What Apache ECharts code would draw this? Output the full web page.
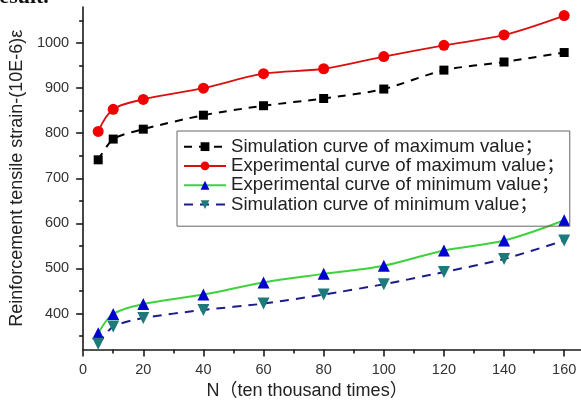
<!DOCTYPE html>
<html><head><meta charset="utf-8">
<script src="https://cdn.jsdelivr.net/npm/echarts@6/dist/echarts.min.js"></script>
<style>html,body{margin:0;padding:0;background:#fff;overflow:hidden}#c{width:581px;height:405px}</style>
</head><body><div id="c"></div>
<script>
// ---- data ----
const N = [5, 10, 20, 40, 60, 80, 100, 120, 140, 160];
const simMax = [741, 787, 809, 840, 861, 877, 898, 940, 958, 979];
const expMax = [804, 853, 875, 900, 932, 943, 970, 995, 1018, 1061];
const expMin = [356, 399, 421, 442, 469, 488, 506, 540, 562, 607];
const simMin = [333, 371, 390, 408, 422, 442, 465, 492, 521, 562];
const seriesNames = [
  'Simulation curve of maximum value；',
  'Experimental curve of maximum value；',
  'Experimental curve of minimum value；',
  'Simulation curve of minimum value；'
];
const xMajor = [0, 20, 40, 60, 80, 100, 120, 140, 160];
const xMinor = [10, 30, 50, 70, 90, 110, 130, 150];
const yMajor = [400, 500, 600, 700, 800, 900, 1000];
const yMinor = [350, 450, 550, 650, 750, 850, 950, 1050];
const xName = 'N（ten thousand times）';
const yName = 'Reinforcement tensile strain-(10E-6)ε';

const FONT = '"Liberation Sans", Arial, "Noto Sans CJK SC", sans-serif';
const pairs = arr => N.map((x, i) => [x, arr[i]]);
const plain = v => String(v);

const axisLineStyle = { color: '#1a1a1a', width: 1.6 };
const chart = echarts.init(document.getElementById('c'), null, { renderer: 'canvas' });
chart.setOption({
  animation: false,
  backgroundColor: '#fff',
  textStyle: { fontFamily: FONT },
  grid: { left: 78, right: 0, top: 7, bottom: 44, containLabel: false },
  xAxis: [{
    type: 'value', min: 0, max: 165.6, position: 'bottom',
    axisLine: { show: true, lineStyle: axisLineStyle },
    axisTick: { show: true, inside: false, length: 7, customValues: xMajor, lineStyle: axisLineStyle },
    axisLabel: { customValues: xMajor, formatter: plain, margin: 13, fontSize: 14.5, color: '#333', fontFamily: FONT },
    splitLine: { show: false },
    name: xName, nameLocation: 'middle', nameGap: 23,
    nameTextStyle: { fontSize: 18, color: '#222', fontFamily: FONT, padding: [0, 50, 0, 0] }
  }, {
    type: 'value', min: 0, max: 165.6, position: 'bottom', offset: 0,
    axisLine: { show: false },
    axisTick: { show: true, inside: false, length: 4, customValues: xMinor, lineStyle: axisLineStyle },
    axisLabel: { show: false },
    splitLine: { show: false }
  }],
  yAxis: [{
    type: 'value', min: 320, max: 1080, position: 'left',
    axisLine: { show: true, lineStyle: axisLineStyle },
    axisTick: { show: true, inside: false, length: 7, customValues: yMajor, lineStyle: axisLineStyle },
    axisLabel: { customValues: yMajor, formatter: plain, margin: 14, fontSize: 14.5, color: '#333', fontFamily: FONT },
    splitLine: { show: false },
    name: yName, nameLocation: 'middle', nameGap: 45,
    nameTextStyle: { fontSize: 18, color: '#222', fontFamily: FONT }
  }, {
    type: 'value', min: 320, max: 1080, position: 'left', offset: 0,
    axisLine: { show: false },
    axisTick: { show: true, inside: false, length: 4, customValues: yMinor, lineStyle: axisLineStyle },
    axisLabel: { show: false },
    splitLine: { show: false }
  }],
  legend: {
    left: 177, top: 131, orient: 'vertical',
    data: seriesNames,
    itemWidth: 42, itemHeight: 11, itemGap: 0,
    padding: [6, 5, 12, 6],
    borderColor: '#666', borderWidth: 1,
    textStyle: { fontSize: 18.6, lineHeight: 19.3, color: '#222', fontFamily: FONT }
  },
  graphic: [{
    type: 'text', left: -10, top: -14,
    style: { text: 'result.', font: 'bold 22px "Liberation Serif", serif', fill: '#111' }
  }],
  series: [{
    name: seriesNames[0], type: 'line', data: pairs(simMax), smooth: 0.25,
    symbol: 'rect', symbolSize: 9,
    itemStyle: { color: '#000' },
    lineStyle: { color: '#000', width: 2, type: [8, 7] }
  }, {
    name: seriesNames[1], type: 'line', data: pairs(expMax), smooth: 0.35,
    symbol: 'circle', symbolSize: 11,
    itemStyle: { color: '#f20000' },
    lineStyle: { color: '#d81010', width: 1.8, type: 'solid' }
  }, {
    name: seriesNames[2], type: 'line', data: pairs(expMin), smooth: 0.35,
    symbol: 'triangle', symbolSize: 12,
    itemStyle: { color: '#0000d0' },
    lineStyle: { color: '#3fd23f', width: 2, type: 'solid' }
  }, {
    name: seriesNames[3], type: 'line', data: pairs(simMin), smooth: 0.25,
    symbol: 'triangle', symbolRotate: 180, symbolSize: 12,
    itemStyle: { color: '#1e7a7a' },
    lineStyle: { color: '#1c1c8c', width: 2, type: [9, 7] }
  }]
});
</script>
</body></html>
